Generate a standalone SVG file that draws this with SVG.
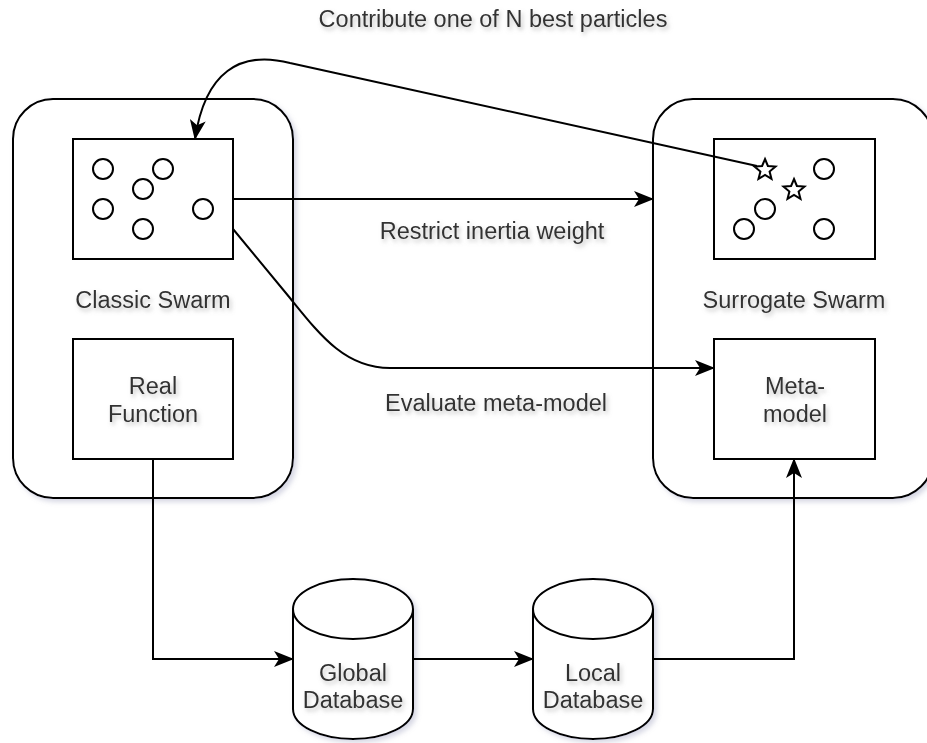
<svg xmlns="http://www.w3.org/2000/svg" width="927" height="743" viewBox="0 0 927 743">
<defs>
<filter id="sh" x="-20%" y="-20%" width="140%" height="140%">
<feDropShadow dx="3" dy="3" stdDeviation="2.5" flood-color="#8a8fb0" flood-opacity="0.35"/>
</filter>
<filter id="tsh" x="-10%" y="-40%" width="120%" height="180%">
<feDropShadow dx="2" dy="3" stdDeviation="2" flood-color="#888" flood-opacity="0.5"/>
</filter>
<marker id="arr" viewBox="0 0 20 16" refX="19" refY="8" markerWidth="20" markerHeight="16" markerUnits="userSpaceOnUse" orient="auto">
<path d="M0,0 L20,8 L0,16 L5,8 Z" fill="#000"/>
</marker>
<path id="star" d="M0,-11 L2.9,-4 L10.5,-3.4 L4.6,1.5 L6.5,8.9 L0,5 L-6.5,8.9 L-4.6,1.5 L-10.5,-3.4 L-2.9,-4 Z"/>
</defs>
<style>
.box{fill:#fff;stroke:#000;stroke-width:2}
.cont{fill:#fff;stroke:#000;stroke-width:2;filter:url(#sh)}
.dot{fill:#fff;stroke:#000;stroke-width:2}
.lbl{font-family:"Liberation Sans",Arial,sans-serif;font-size:23.5px;fill:#333;text-anchor:middle;filter:url(#tsh)}
.edge{fill:none;stroke:#000;stroke-width:2;marker-end:url(#arr)}
.line{fill:none;stroke:#000;stroke-width:2}
</style>
<rect width="927" height="743" fill="#fff"/>

<g id="classic-swarm">
<rect class="cont" x="13" y="99" width="280" height="399" rx="40" ry="40"/>
<text class="lbl" x="153" y="308">Classic Swarm</text>
</g>
<g id="surrogate-swarm">
<rect class="cont" x="653" y="99" width="280" height="399" rx="40" ry="40"/>
<text class="lbl" x="794" y="308">Surrogate Swarm</text>
</g>

<g id="classic-particles">
<rect class="box" x="73" y="139" width="160" height="120"/>
<circle class="dot" cx="103" cy="169" r="10"/>
<circle class="dot" cx="163" cy="169" r="10"/>
<circle class="dot" cx="143" cy="189" r="10"/>
<circle class="dot" cx="103" cy="209" r="10"/>
<circle class="dot" cx="203" cy="209" r="10"/>
<circle class="dot" cx="143" cy="229" r="10"/>
</g>

<g id="surrogate-particles">
<rect class="box" x="714" y="139" width="161" height="120"/>
<circle class="dot" cx="824" cy="169" r="10"/>
<circle class="dot" cx="765" cy="209" r="10"/>
<circle class="dot" cx="744" cy="229" r="10"/>
<circle class="dot" cx="824" cy="229" r="10"/>
<use href="#star" x="765" y="170" class="dot"/>
<use href="#star" x="794" y="190" class="dot"/>
</g>

<g id="real-function">
<rect class="box" x="73" y="339" width="160" height="120"/>
<text class="lbl" x="153" y="394">Real</text>
<text class="lbl" x="153" y="422">Function</text>
</g>

<g id="meta-model">
<rect class="box" x="714" y="339" width="161" height="120"/>
<text class="lbl" x="795" y="394">Meta-</text>
<text class="lbl" x="795" y="422">model</text>
</g>

<g id="global-database">
<path class="cont" d="M293,609 A60,30 0 0 1 413,609 L413,709 A60,30 0 0 1 293,709 Z"/>
<path class="line" d="M293,609 A60,30 0 0 0 413,609"/>
<text class="lbl" x="353" y="681">Global</text>
<text class="lbl" x="353" y="708">Database</text>
</g>

<g id="local-database">
<path class="cont" d="M533,609 A60,30 0 0 1 653,609 L653,709 A60,30 0 0 1 533,709 Z"/>
<path class="line" d="M533,609 A60,30 0 0 0 653,609"/>
<text class="lbl" x="593" y="681">Local</text>
<text class="lbl" x="593" y="708">Database</text>
</g>

<g id="connectors">
<path class="edge" d="M757,166 L290,63 C240,50 205,72 195,139"/>
<path class="edge" d="M233,199 L653,199"/>
<path class="edge" d="M233,229 L290,298 C320,335 345,368 390,368 L714,368"/>
<path class="edge" d="M153,459 L153,659 L293,659"/>
<path class="edge" d="M413,659 L533,659"/>
<path class="edge" d="M653,659 L794,659 L794,459"/>
</g>

<g id="labels">
<text class="lbl" x="493" y="27">Contribute one of N best particles</text>
<text class="lbl" x="492" y="239">Restrict inertia weight</text>
<text class="lbl" x="496" y="411">Evaluate meta-model</text>
</g>
</svg>
